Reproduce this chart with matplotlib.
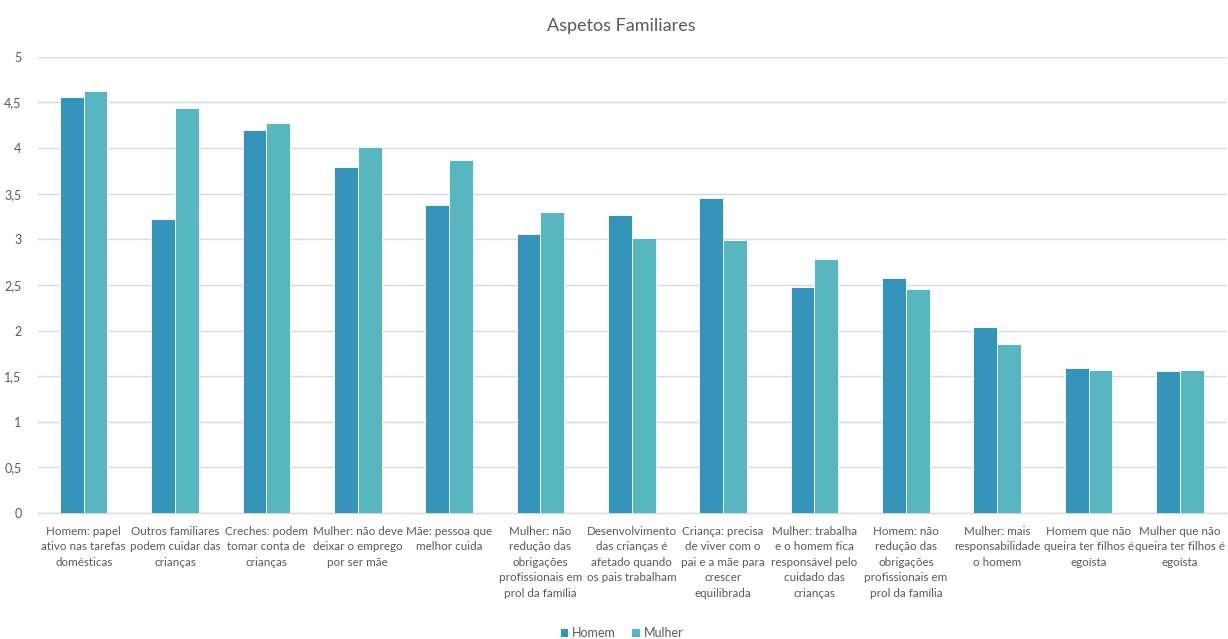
import numpy as np
import matplotlib as mpl
import matplotlib.pyplot as plt
from matplotlib.ticker import FuncFormatter

mpl.rcParams.update({
    "font.family": ["Lato", "DejaVu Sans"],
    "text.color": "#595959",
    "xtick.color": "#595959",
    "ytick.color": "#595959",
})

categories = [
    "Homem: papel\nativo nas tarefas\ndomésticas",
    "Outros familiares\npodem cuidar das\ncrianças",
    "Creches: podem\ntomar conta de\ncrianças",
    "Mulher: não deve\ndeixar o emprego\npor ser mãe",
    "Mãe: pessoa que\nmelhor cuida",
    "Mulher: não\nredução das\nobrigações\nprofissionais em\nprol da família",
    "Desenvolvimento\ndas crianças é\nafetado quando\nos pais trabalham",
    "Criança: precisa\nde viver com o\npai e a mãe para\ncrescer\nequilibrada",
    "Mulher: trabalha\ne o homem fica\nresponsável pelo\ncuidado das\ncrianças",
    "Homem: não\nredução das\nobrigações\nprofissionais em\nprol da família",
    "Mulher: mais\nresponsabilidade\no homem",
    "Homem que não\nqueira ter filhos é\negoísta",
    "Mulher que não\nqueira ter filhos é\negoísta",
]
homem = [4.56, 3.22, 4.20, 3.79, 3.38, 3.06, 3.27, 3.45, 2.48, 2.58, 2.04, 1.59, 1.56]
mulher = [4.63, 4.44, 4.27, 4.01, 3.87, 3.30, 3.02, 2.99, 2.79, 2.46, 1.85, 1.57, 1.57]

C_HOMEM = "#3494BA"
C_MULHER = "#58B6C0"

fig = plt.figure(figsize=(12.28, 6.39), dpi=100)
ax = fig.add_axes([0.031, 0.197, 0.967, 0.714])

x = np.arange(len(categories))
w = 0.26
ax.bar(x - w / 2, homem, w, color=C_HOMEM, edgecolor="white", linewidth=0.6,
       label="Homem", zorder=3)
ax.bar(x + w / 2, mulher, w, color=C_MULHER, edgecolor="white", linewidth=0.6,
       label="Mulher", zorder=3)

ax.set_xlim(-0.5, len(categories) - 0.5)
ax.set_ylim(0, 5)
ax.set_yticks(np.arange(0, 5.01, 0.5))
ax.yaxis.set_major_formatter(FuncFormatter(
    lambda v, p: (f"{v:g}").replace(".", ",")))
ax.set_xticks(x)
ax.set_xticklabels(categories, fontsize=8.4, linespacing=1.5, va="top")
ax.tick_params(axis="x", length=0, pad=9)
ax.tick_params(axis="y", length=0, pad=12, labelsize=9)

ax.grid(True, axis="y", color="#D9D9D9", linewidth=1.0, zorder=0)
for s in ["top", "right", "left"]:
    ax.spines[s].set_visible(False)
ax.spines["bottom"].set_color("#D9D9D9")
ax.spines["bottom"].set_linewidth(1.0)

fig.text(0.506, 0.96, "Aspetos Familiares", ha="center", va="center",
         fontsize=13, color="#595959")

fig.legend(loc="center", bbox_to_anchor=(0.506, 0.01), ncol=2, frameon=False,
           fontsize=9, handlelength=0.7, handleheight=0.7, handletextpad=0.3,
           columnspacing=1.2)

fig.savefig("out.png", dpi=100)
